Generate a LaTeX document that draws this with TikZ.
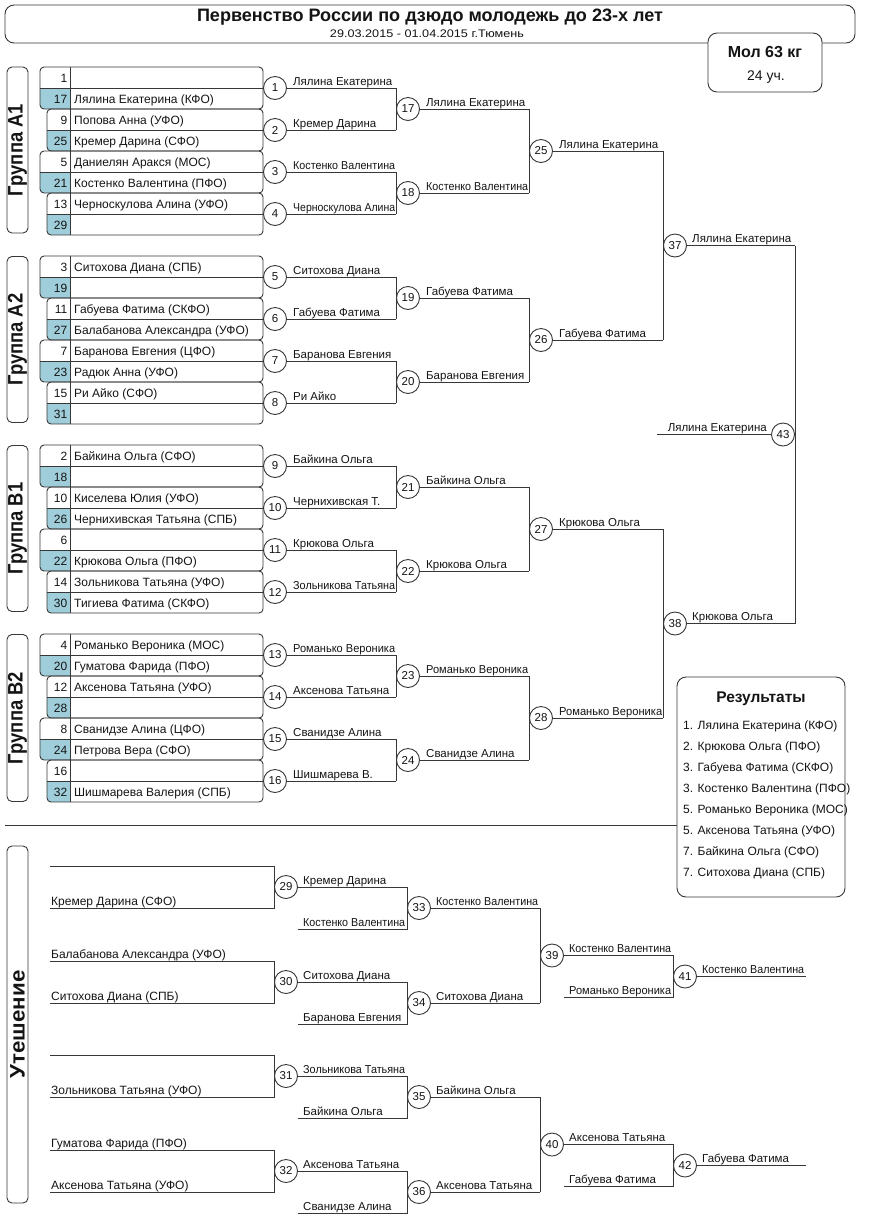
\documentclass[tikz,border=0pt]{standalone}
\usepackage{fontspec}
\setmainfont{Liberation Sans}
\usepackage{graphicx}
\usetikzlibrary{calc}
\newsavebox\fitbx
\newcommand\fitw[2]{\sbox\fitbx{#2}\ifdim\wd\fitbx>#1\relax\resizebox{#1}{\height}{\usebox\fitbx}\else\usebox\fitbx\fi}
\newcommand\grptxt[2]{\resizebox{#1}{\height}{#2}}
\definecolor{linec}{RGB}{55,55,55}
\definecolor{cellblue}{RGB}{160,205,218}
\definecolor{txt}{RGB}{20,20,20}
\begin{document}
\begin{tikzpicture}[x=1pt,y=-1pt,
  ln/.style={draw=linec, line width=0.9pt},
  bx/.style={draw=linec, line width=0.9pt, rounded corners=4pt},
  mc/.style={circle, draw=linec, line width=0.9pt, fill=white, minimum size=23pt, inner sep=0pt, text=txt, font=\fontsize{11.5}{13}\selectfont},
  wl/.style={anchor=base west, inner sep=0pt, text=txt, font=\fontsize{11.5}{13}\selectfont},
  wr/.style={anchor=base east, inner sep=0pt, text=txt, font=\fontsize{11.5}{13}\selectfont},
  nm/.style={anchor=base west, inner sep=0pt, text=txt, font=\fontsize{12}{14}\selectfont},
  sd/.style={anchor=base east, inner sep=0pt, text=txt, font=\fontsize{12}{14}\selectfont},
  grp/.style={draw=linec, line width=0.9pt, rounded corners=5pt, rotate=90, minimum width=#1, minimum height=21pt, inner sep=0pt, text=txt, font=\bfseries\fontsize{21}{22}\selectfont},
  rbox/.style={draw=linec, line width=0.9pt, rounded corners=9pt, fill=white}
]
\useasboundingbox (0,0) rectangle (869,1219);

% ---------- header ----------
\draw[rbox] (5,5) rectangle (855,43);
\node[text=txt] (title) at (430,17) {\resizebox{466pt}{\height}{\bfseries\fontsize{18}{20}\selectfont Первенство России по дзюдо молодежь до 23-х лет}};
\node[text=txt] (subtitle) at (427,34) {\resizebox{194pt}{\height}{\fontsize{11}{12}\selectfont 29.03.2015 - 01.04.2015 г.Тюмень}};
\draw[rbox] (708,33) rectangle (822,92);
\node[text=txt, font=\bfseries\fontsize{16}{18}\selectfont] (weight) at (765,52) {Мол 63 кг};
\node[text=txt, font=\fontsize{14}{16}\selectfont] (count) at (766,77) {24 уч.};

% ---------- group labels ----------
\node[grp=166pt] (gA1) at (17.5,150) {\grptxt{92pt}{Группа А1}};
\node[grp=166pt] (gA2) at (17.5,339.5) {\grptxt{92pt}{Группа А2}};
\node[grp=166pt] (gB1) at (17.5,528.5) {\grptxt{92pt}{Группа В1}};
\node[grp=167pt] (gB2) at (17.5,718) {\grptxt{92pt}{Группа В2}};
\node[grp=357pt] (gC) at (17.5,1024.5) {\grptxt{108pt}{Утешение}};

% ---------- participant boxes ----------
\foreach \pp in {0,...,15}{
  \pgfmathtruncatemacro\grpn{int(\pp/4)}
  \pgfmathtruncatemacro\idx{mod(\pp,4)}
  \pgfmathsetmacro\ty{67+189*\grpn+42*\idx}
  \pgfmathsetmacro\lft{ifthenelse(mod(\idx,2)==0,40,47)}
  \begin{scope}
    \clip[rounded corners=4pt] (\lft,\ty) rectangle (263,\ty+42);
    \fill[cellblue] (\lft,\ty+21) rectangle (70,\ty+42);
  \end{scope}
  \draw[bx] (\lft,\ty) rectangle (263,\ty+42);
  \draw[ln] (\lft,\ty+21) -- (263,\ty+21) (70,\ty) -- (70,\ty+42);
}
\foreach \rr/\sn/\nme in {
  0/1/{}, 1/17/Лялина Екатерина (КФО), 2/9/Попова Анна (УФО), 3/25/Кремер Дарина (СФО),
  4/5/Даниелян Аракся (МОС), 5/21/Костенко Валентина (ПФО), 6/13/Черноскулова Алина (УФО), 7/29/{},
  8/3/Ситохова Диана (СПБ), 9/19/{}, 10/11/Габуева Фатима (СКФО), 11/27/Балабанова Александра (УФО),
  12/7/Баранова Евгения (ЦФО), 13/23/Радюк Анна (УФО), 14/15/Ри Айко (СФО), 15/31/{},
  16/2/Байкина Ольга (СФО), 17/18/{}, 18/10/Киселева Юлия (УФО), 19/26/Чернихивская Татьяна (СПБ),
  20/6/{}, 21/22/Крюкова Ольга (ПФО), 22/14/Зольникова Татьяна (УФО), 23/30/Тигиева Фатима (СКФО),
  24/4/Романько Вероника (МОС), 25/20/Гуматова Фарида (ПФО), 26/12/Аксенова Татьяна (УФО), 27/28/{},
  28/8/Сванидзе Алина (ЦФО), 29/24/Петрова Вера (СФО), 30/16/{}, 31/32/Шишмарева Валерия (СПБ)}{
  \pgfmathtruncatemacro\grpn{int(\rr/8)}
  \pgfmathtruncatemacro\idx{mod(\rr,8)}
  \pgfmathsetmacro\ty{67+189*\grpn+21*\idx}
  \node[sd] (s\sn) at (67.5,\ty+15) {\sn};
  \node[nm] (p\sn) at (74,\ty+15) {\nme};
}

% ---------- main bracket: round 1 ----------
\foreach \k/\w in {1/Лялина Екатерина, 2/Кремер Дарина, 3/Костенко Валентина, 4/Черноскулова Алина,
  5/Ситохова Диана, 6/Габуева Фатима, 7/Баранова Евгения, 8/Ри Айко,
  9/Байкина Ольга, 10/Чернихивская Т., 11/Крюкова Ольга, 12/Зольникова Татьяна,
  13/Романько Вероника, 14/Аксенова Татьяна, 15/Сванидзе Алина, 16/Шишмарева В.}{
  \pgfmathtruncatemacro\grpn{int((\k-1)/4)}
  \pgfmathtruncatemacro\idx{mod(\k-1,4)}
  \pgfmathsetmacro\yy{88+189*\grpn+42*\idx}
  \node[mc] (m\k) at (275,\yy) {\k};
  \coordinate (e\k) at (396,\yy);
  \draw[ln] (m\k.east) -- (e\k);
  \node[wl] (w\k) at (293,\yy-3) {\fitw{102pt}{\w}};
}
% round 2
\foreach \k/\w in {17/Лялина Екатерина, 18/Костенко Валентина, 19/Габуева Фатима, 20/Баранова Евгения,
  21/Байкина Ольга, 22/Крюкова Ольга, 23/Романько Вероника, 24/Сванидзе Алина}{
  \pgfmathtruncatemacro\idx{\k-17}
  \pgfmathsetmacro\yy{109+189*int(\idx/2)+84*mod(\idx,2)}
  \node[mc] (m\k) at (408,\yy) {\k};
  \coordinate (e\k) at (529,\yy);
  \draw[ln] (m\k.east) -- (e\k);
  \node[wl] (w\k) at (426,\yy-3) {\fitw{102pt}{\w}};
}
% round 3
\foreach \k/\w in {25/Лялина Екатерина, 26/Габуева Фатима, 27/Крюкова Ольга, 28/Романько Вероника}{
  \pgfmathsetmacro\yy{151+189*(\k-25)}
  \node[mc] (m\k) at (541,\yy) {\k};
  \coordinate (e\k) at (663,\yy);
  \draw[ln] (m\k.east) -- (e\k);
  \node[wl] (w\k) at (559,\yy-3) {\fitw{103pt}{\w}};
}
% round 4
\foreach \k/\yy/\w in {37/245.5/Лялина Екатерина, 38/623.5/Крюкова Ольга}{
  \node[mc] (m\k) at (675,\yy) {\k};
  \coordinate (e\k) at (795,\yy);
  \draw[ln] (m\k.east) -- (e\k);
  \node[wl] (w\k) at (692,\yy-3) {\fitw{102pt}{\w}};
}
% verticals
\foreach \a/\b in {1/2,3/4,5/6,7/8,9/10,11/12,13/14,15/16,17/18,19/20,21/22,23/24,25/26,27/28,37/38}{
  \draw[ln] (e\a) -- (e\b);
}
% final
\node[mc] (m43) at (783,434.5) {43};
\coordinate (l43) at (657,434.5);
\draw[ln] (l43) -- (m43.west);
\node[wr] (w43) at (767,431.5) {Лялина Екатерина};

% ---------- separator ----------
\coordinate (sepL) at (5,825);
\coordinate (sepR) at (677,825);
\draw[ln] (sepL) -- (sepR);

% ---------- results ----------
\draw[rbox] (677,677) rectangle (845,897);
\node[text=txt, font=\bfseries\fontsize{15.5}{18}\selectfont] (restitle) at (761,699) {Результаты};
\foreach \n/\t in {0/1. Лялина Екатерина (КФО), 1/2. Крюкова Ольга (ПФО), 2/3. Габуева Фатима (СКФО),
  3/3. Костенко Валентина (ПФО), 4/5. Романько Вероника (МОС), 5/5. Аксенова Татьяна (УФО),
  6/7. Байкина Ольга (СФО), 7/7. Ситохова Диана (СПБ)}{
  \node[nm] (r\n) at (683,729.5+21*\n) {\t};
}

% ---------- consolation ----------
\foreach \bk/\by/\ma/\mb/\ea/\eb/\wa/\lo/\wb in {
  0/866/29/33/{}/Кремер Дарина (СФО)/Кремер Дарина/Костенко Валентина/Костенко Валентина,
  1/961/30/34/Балабанова Александра (УФО)/Ситохова Диана (СПБ)/Ситохова Диана/Баранова Евгения/Ситохова Диана,
  2/1055/31/35/{}/Зольникова Татьяна (УФО)/Зольникова Татьяна/Байкина Ольга/Байкина Ольга,
  3/1150/32/36/Гуматова Фарида (ПФО)/Аксенова Татьяна (УФО)/Аксенова Татьяна/Сванидзе Алина/Аксенова Татьяна}{
  \coordinate (ca\bk) at (50,\by);
  \coordinate (cb\bk) at (50,\by+42);
  \coordinate (va\bk) at (274,\by);
  \coordinate (vb\bk) at (274,\by+42);
  \draw[ln] (ca\bk) -- (va\bk) -- (vb\bk) -- (cb\bk);
  \node[nm] (ta\bk) at (51,\by-3) {\ea};
  \node[nm] (tb\bk) at (51,\by+39) {\eb};
  \node[mc] (m\ma) at (286,\by+21) {\ma};
  \coordinate (x\ma) at (407,\by+21);
  \coordinate (la\bk) at (298,\by+63);
  \coordinate (lb\bk) at (407,\by+63);
  \draw[ln] (m\ma.east) -- (x\ma) -- (lb\bk) -- (la\bk);
  \node[wl] (w\ma) at (303,\by+18) {\fitw{102pt}{\wa}};
  \node[wl] (lt\bk) at (303,\by+60) {\fitw{102pt}{\lo}};
  \node[mc] (m\mb) at (419,\by+42) {\mb};
  \coordinate (x\mb) at (540,\by+42);
  \draw[ln] (m\mb.east) -- (x\mb);
  \node[wl] (w\mb) at (436,\by+39) {\fitw{102pt}{\wb}};
}
\foreach \ta/\tb/\mcc/\mdd/\wc/\lo/\wdd in {33/34/39/41/Костенко Валентина/Романько Вероника/Костенко Валентина,
  35/36/40/42/Аксенова Татьяна/Габуева Фатима/Габуева Фатима}{
  \draw[ln] (x\ta) -- (x\tb);
  \node[mc] (m\mcc) at ($(x\ta)!0.5!(x\tb)+(12,0)$) {\mcc};
  \coordinate (y\mcc) at ($(m\mcc.center)+(121,0)$);
  \coordinate (q\mcc) at ($(m\mcc.center)+(12,42)$);
  \coordinate (r\mcc) at ($(m\mcc.center)+(121,42)$);
  \draw[ln] (m\mcc.east) -- (y\mcc) -- (r\mcc) -- (q\mcc);
  \node[wl] (w\mcc) at ($(m\mcc.center)+(17,-3)$) {\fitw{102pt}{\wc}};
  \node[wl] (lt\mcc) at ($(m\mcc.center)+(17,39)$) {\fitw{102pt}{\lo}};
  \node[mc] (m\mdd) at ($(m\mcc.center)+(133,21)$) {\mdd};
  \coordinate (z\mdd) at ($(m\mdd.center)+(121,0)$);
  \draw[ln] (m\mdd.east) -- (z\mdd);
  \node[wl] (w\mdd) at ($(m\mdd.center)+(17,-3)$) {\fitw{102pt}{\wdd}};
}
\end{tikzpicture}
\end{document}
